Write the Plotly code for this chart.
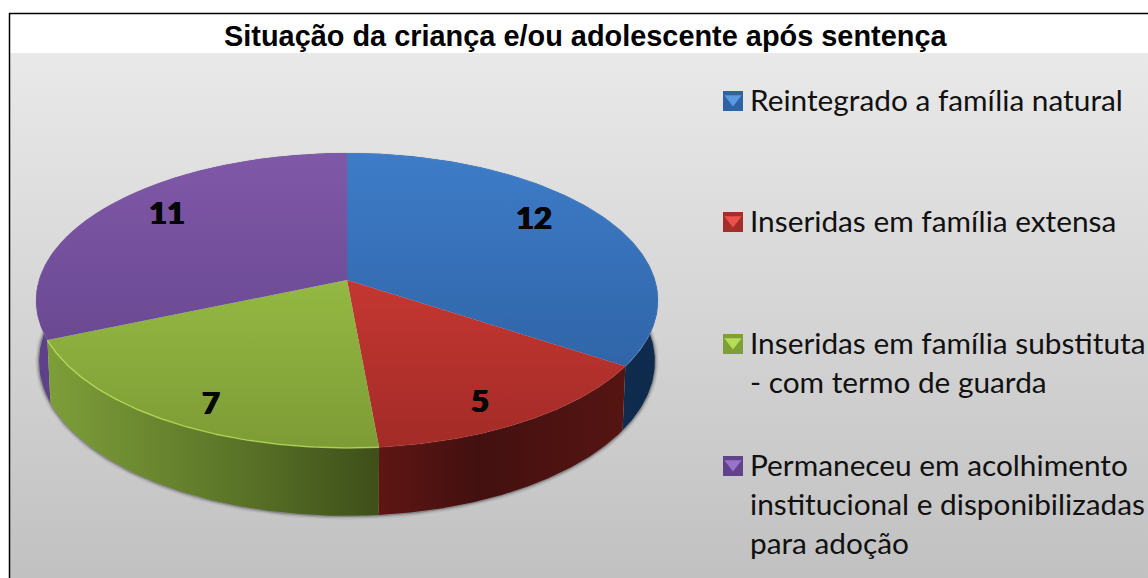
import numpy as np
import plotly.graph_objects as go

# ---- data ----
categories = [
    "Reintegrado a família natural",
    "Inseridas em família extensa",
    "Inseridas em família substituta\n- com termo de guarda",
    "Permaneceu em acolhimento\ninstitucional e disponibilizadas\npara adoção",
]
values = [12, 5, 7, 11]
title_text = "Situação da criança e/ou adolescente após sentença"

# ---- styles ----
top_colors = [("#3E7CC8", "#2A5C9C"), ("#DE403A", "#A32B27"),
              ("#A6CE4E", "#7D9C35"), ("#8058A8", "#5E4186")]
wall_colors = [
    [[0, "#123A66"], [1, "#0E2A4C"]],
    [[0, "#5E1613"], [0.4, "#431010"], [1, "#551512"]],
    [[0, "#7E9E39"], [0.5, "#5F7A2A"], [1, "#3E4F19"]],
    [[0, "#5F4189"], [1, "#553A7C"]],
]
rim_colors = ["rgba(120,170,225,.2)", "rgba(190,70,60,.2)",
              "rgba(190,230,90,.7)", "rgba(150,120,190,.15)"]
swatch_colors = [("#2F63A3", "#5A9BE0"), ("#A62E2A", "#E8514C"),
                 ("#7F9F37", "#B5DE58"), ("#604388", "#9A72CC")]
label_pos = [(534, 217), (480, 400), (211, 402), (167, 212)]
legend_rows = [99, 220, 342, 464]
LINE_STEP = 39
CX, CY, RX, K, C = 347, 280, 308, 144.6, -0.139
DEPTH, YK, XK = 60, 1.047, 0.99


def project(deg, bottom=False):
    t = np.radians(deg)
    u, v = np.sin(t), -np.cos(t)
    d = 1 + C * v
    x, y = RX * u / d, K * v / d
    if bottom:
        x, y = x * XK, y * YK + DEPTH
    return CX + x, CY + y


fig = go.Figure()
W, H = 1148, 578

# background panel
fig.add_trace(go.Scatter(
    x=[10, W, W, 10, 10], y=[53, 53, H, H, 53], mode="lines", fill="toself",
    line=dict(width=0), showlegend=False, hoverinfo="skip",
    fillgradient=dict(type="vertical", start=53, stop=H,
                      colorscale=[[0, "#E9E9E9"], [1, "#C1C1C1"]])))

edges = np.concatenate([[0], np.cumsum(values)]) / sum(values) * 360

# contact shadow
sx, sy = project(np.linspace(60, 300, 300), bottom=True)
for w, a in [(8, .08), (5, .16), (2.5, .3)]:
    fig.add_trace(go.Scatter(x=sx, y=sy, mode="lines", showlegend=False, hoverinfo="skip",
                             line=dict(color=f"rgba(60,60,70,{a})", width=w)))

# side walls (back to front)
for i in [0, 3, 2, 1]:
    a = np.linspace(edges[i], edges[i + 1], 160)
    xt, yt = project(a)
    xb, yb = project(a[::-1], bottom=True)
    px, py = np.r_[xt, xb, xt[0]], np.r_[yt, yb, yt[0]]
    fig.add_trace(go.Scatter(
        x=px, y=py, mode="lines", fill="toself", line=dict(width=0),
        showlegend=False, hoverinfo="skip",
        fillgradient=dict(type="horizontal", start=float(px.min()), stop=float(px.max()),
                          colorscale=wall_colors[i])))

# top faces
for i, cat in enumerate(categories):
    a = np.linspace(edges[i], edges[i + 1], 160)
    xt, yt = project(a)
    px, py = np.r_[CX, xt, CX], np.r_[CY, yt, CY]
    fig.add_trace(go.Scatter(
        x=px, y=py, mode="lines", fill="toself", line=dict(width=0),
        name=cat.replace("\n", " "), text=f"{values[i]}", hoverinfo="name+text",
        showlegend=False,
        fillgradient=dict(type="vertical", start=153, stop=447,
                          colorscale=[[0, top_colors[i][0]], [1, top_colors[i][1]]])))
    fig.add_trace(go.Scatter(x=xt, y=yt, mode="lines", showlegend=False, hoverinfo="skip",
                             line=dict(color=rim_colors[i], width=1.5)))

# value labels
for v, (lx, ly) in zip(values, label_pos):
    fig.add_annotation(x=lx, y=ly, text=str(v), showarrow=False,
                       font=dict(family="Lato", size=31, color="#050505", weight=900,
                                 shadow="0.7px 0 0 #050505, -0.7px 0 0 #050505"))

# legend
for i, (cat, ry) in enumerate(zip(categories, legend_rows)):
    fig.add_trace(go.Scatter(
        x=[733], y=[ry + 2], mode="markers", showlegend=False, hoverinfo="skip",
        marker=dict(symbol="square", size=20, color=swatch_colors[i][0], line=dict(width=0))))
    fig.add_trace(go.Scatter(
        x=[733], y=[ry], mode="markers", showlegend=False, hoverinfo="skip",
        marker=dict(symbol="triangle-down", size=15, color=swatch_colors[i][1], line=dict(width=0))))
    for j, line in enumerate(cat.split("\n")):
        fig.add_annotation(x=748, y=ry + j * LINE_STEP, text=line, showarrow=False,
                           xanchor="left", font=dict(family="Lato", size=29.8, color="#111111"))

# title
fig.add_annotation(x=585, y=36, text=f"<b>{title_text}</b>", showarrow=False,
                   font=dict(family="Liberation Sans", size=28.9, color="#000000"))

# frame
for x0, y0, x1, y1 in [(9.5, 13, 9.5, H), (9, 13.5, W, 13.5)]:
    fig.add_shape(type="line", x0=x0, y0=y0, x1=x1, y1=y1,
                  line=dict(color="#000000", width=1.5), layer="above")

fig.update_layout(
    width=W, height=H, margin=dict(l=0, r=0, t=0, b=0),
    paper_bgcolor="#FFFFFF", plot_bgcolor="#FFFFFF",
    xaxis=dict(range=[0, W], visible=False, fixedrange=True),
    yaxis=dict(range=[H, 0], visible=False, fixedrange=True),
    showlegend=False,
)
fig.write_html(
    "out.html",
    config={"displayModeBar": False},
    post_script='document.body.style.margin="0";document.body.style.overflow="hidden";',
)
